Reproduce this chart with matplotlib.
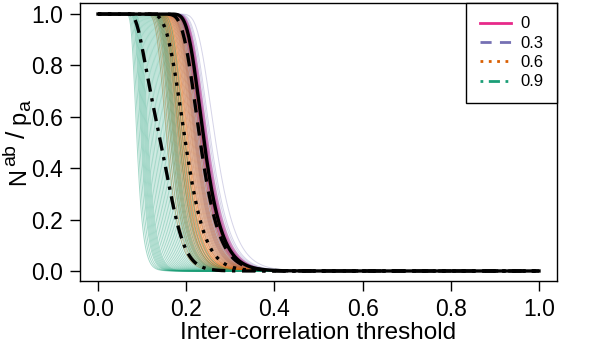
import numpy as np
import matplotlib

matplotlib.use("Agg")
import matplotlib.pyplot as plt
from matplotlib.lines import Line2D

plt.rcParams["font.family"] = ["Liberation Sans", "DejaVu Sans"]

# correlation levels shown in the legend
levels = ["0", "0.3", "0.6", "0.9"]
colors = ["#E7298A", "#7570B3", "#D95F02", "#1B9E77"]

# threshold at which each simulated curve has dropped to ~0.63
loc_0 = [0.223, 0.225, 0.226, 0.227, 0.228, 0.228, 0.229, 0.229, 0.230, 0.230,
         0.231, 0.231, 0.232, 0.232, 0.233, 0.234, 0.235, 0.236, 0.237, 0.239]
loc_03 = [0.198, 0.201, 0.204, 0.206, 0.208, 0.210, 0.211, 0.212, 0.213, 0.214,
          0.215, 0.216, 0.217, 0.218, 0.219, 0.220, 0.221, 0.222, 0.223, 0.224,
          0.225, 0.226, 0.227, 0.228, 0.229, 0.230, 0.232, 0.234, 0.236, 0.238,
          0.240, 0.243, 0.246, 0.256]
loc_06 = [0.150, 0.154, 0.158, 0.161, 0.164, 0.166, 0.168, 0.170, 0.172, 0.174,
          0.176, 0.177, 0.178, 0.180, 0.181, 0.182, 0.184, 0.185, 0.186, 0.188,
          0.189, 0.190, 0.192, 0.193, 0.195, 0.196, 0.198, 0.200, 0.202, 0.204,
          0.206, 0.208, 0.210, 0.212, 0.214, 0.216, 0.219, 0.222, 0.226, 0.230]
loc_09 = [0.085, 0.088, 0.091, 0.094, 0.096, 0.098, 0.100, 0.102, 0.104, 0.106,
          0.108, 0.110, 0.113, 0.116, 0.119, 0.122, 0.125, 0.128, 0.131, 0.134,
          0.137, 0.140, 0.143, 0.146, 0.149, 0.152, 0.155, 0.158, 0.160, 0.162,
          0.164, 0.166, 0.168, 0.170, 0.172, 0.175, 0.178, 0.181, 0.185, 0.190]
locations = [loc_0, loc_03, loc_06, loc_09]
# width of each drop relative to its location
rel_spread = [0.12, 0.12, 0.125, 0.115]

thresholds = np.linspace(0, 1, 501)

W, H = 598, 343
fig = plt.figure(figsize=(W / 100, H / 100), dpi=100)
ax = fig.add_axes([80 / W, 1 - 281 / H, 477 / W, 278 / H])

alphas = [0.5, 0.3, 0.42, 0.4]
mean_styles = ["-", (0, (4, 3)), (0, (1, 2)), (0, (1, 2, 4, 2))]
curves = []
for i in range(4):
    group = []
    for m in locations[i]:
        s = rel_spread[i] * m
        y = 1.0 - np.exp(-np.exp(-(thresholds - m) / s))
        group.append(y)
        ax.plot(thresholds, y, color=colors[i], lw=0.7, alpha=alphas[i])
    curves.append(np.array(group))

for i in range(4):
    ax.plot(thresholds, curves[i].mean(axis=0), color="black", lw=2.4,
            linestyle=mean_styles[i])

ticks = [0, 0.2, 0.4, 0.6, 0.8, 1.0]
tick_text = ["0.0", "0.2", "0.4", "0.6", "0.8", "1.0"]
ax.set_xlim(-0.0408, 1.0408)
ax.set_ylim(-0.039, 1.043)
ax.set_xticks(ticks)
ax.set_yticks(ticks)
ax.set_xticklabels(tick_text)
ax.set_yticklabels(tick_text)
ax.tick_params(direction="out", length=7, width=1, labelsize=16.5, pad=5)
for s in ax.spines.values():
    s.set_linewidth(1)

ax.set_xlabel("Inter-correlation threshold", fontsize=17.5, va="baseline")
ax.xaxis.set_label_coords(0.5, -58 / 278)

# y label N^ab / p_a, set piece by piece like R's plotmath
ylabel_parts = [("N", 17, 25, 185), ("ab", 14, 15.5, 166), ("/", 19, 25, 138),
                ("p", 17, 25, 124), ("a", 14, 30, 111)]
for txt, size, px, py in ylabel_parts:
    fig.text(px / W, 1 - py / H, txt, fontsize=size, rotation=90,
             rotation_mode="anchor", ha="left", va="baseline")

handles = [Line2D([], [], color=colors[i], lw=2, linestyle=mean_styles[i])
           for i in range(4)]
leg = ax.legend(handles, levels, loc="upper right", bbox_to_anchor=(1, 1),
                borderaxespad=0, fontsize=12, handlelength=1.9,
                handletextpad=0.55, labelspacing=0.26, borderpad=0.8,
                fancybox=False, framealpha=1, edgecolor="black")
leg.get_frame().set_linewidth(1)

fig.savefig("out.png", dpi=100)
